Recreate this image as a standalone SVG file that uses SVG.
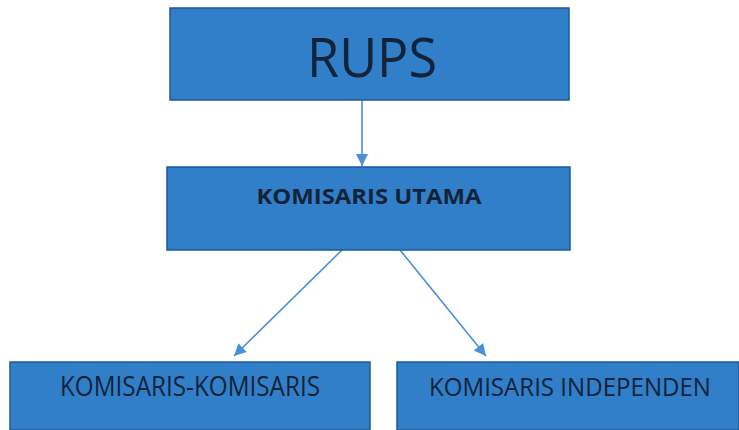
<svg xmlns="http://www.w3.org/2000/svg" width="739" height="430" viewBox="0 0 739 430">
<style>
.box{fill:#307fc8;stroke:#1d5a96;stroke-width:1.5}
.t{font-family:"Open Sans","Liberation Sans",sans-serif;fill:#13233a;text-anchor:middle}
.c{stroke:#4a90d6;stroke-width:1.6;fill:none;marker-end:url(#ah)}
</style>
<defs>
<marker id="ah" viewBox="0 0 10 10" refX="10" refY="5" markerWidth="14" markerHeight="12" orient="auto" markerUnits="userSpaceOnUse">
<path d="M0,0 L10,5 L0,10 z" fill="#4a90d6"/>
</marker>
</defs>
<rect width="739" height="430" fill="#ffffff"/>
<g id="connectors">
<line class="c" x1="362" y1="100" x2="362" y2="166"/>
<line class="c" x1="342" y1="250" x2="234" y2="356"/>
<line class="c" x1="400" y1="250" x2="486" y2="356"/>
</g>
<g id="rups">
<rect class="box" x="170" y="8" width="399" height="92"/>
<text class="t" x="372" y="77" font-size="54" textLength="130" lengthAdjust="spacingAndGlyphs">RUPS</text>
</g>
<g id="komisaris-utama">
<rect class="box" x="167" y="167" width="403" height="83"/>
<text class="t" x="369" y="204" font-size="22" font-weight="bold" textLength="225" lengthAdjust="spacingAndGlyphs">KOMISARIS UTAMA</text>
</g>
<g id="komisaris-komisaris">
<rect class="box" x="10" y="362" width="360" height="68"/>
<text class="t" x="190" y="396" font-size="27" textLength="260" lengthAdjust="spacingAndGlyphs">KOMISARIS-KOMISARIS</text>
</g>
<g id="komisaris-independen">
<rect class="box" x="397" y="362" width="342" height="68"/>
<text class="t" x="570" y="396" font-size="25" textLength="282" lengthAdjust="spacingAndGlyphs">KOMISARIS INDEPENDEN</text>
</g>
</svg>
